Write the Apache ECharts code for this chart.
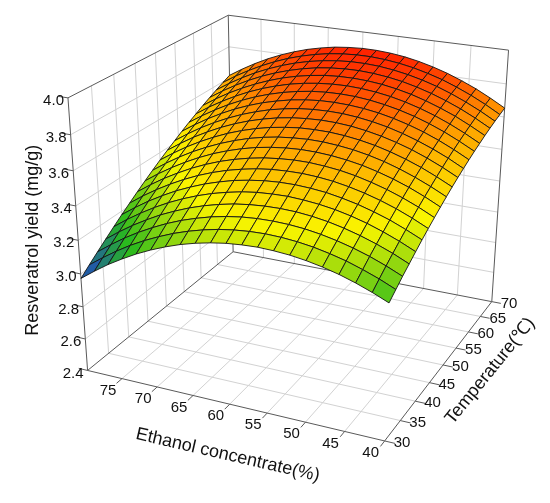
<!DOCTYPE html>
<html>
<head>
<meta charset="utf-8">
<script src="https://cdn.jsdelivr.net/npm/echarts@6.0.0/dist/echarts.min.js"></script>
<style>
html,body{margin:0;padding:0;background:#fff;}
#chart{width:550px;height:503px;}
</style>
</head>
<body>
<div id="chart"></div>
<script>
// ---------------- DATA ----------------
const ethanol = [40,42,44,46,48,50,52,54,56,58,60,62,64,66,68,70,72,74,76,78,80];
const temperature = [30,32,34,36,38,40,42,44,46,48,50,52,54,56,58,60,62,64,66,68,70];
// resveratrolYield[j][i] : temperature[j], ethanol[i]  (mg/g)
const resveratrolYield = [
 [3.195,3.234,3.268,3.297,3.320,3.338,3.351,3.358,3.361,3.357,3.349,3.335,3.316,3.292,3.262,3.227,3.187,3.141,3.091,3.034,2.973],
 [3.229,3.269,3.303,3.333,3.356,3.375,3.388,3.396,3.399,3.396,3.388,3.375,3.356,3.332,3.303,3.268,3.229,3.184,3.133,3.077,3.017],
 [3.263,3.303,3.338,3.367,3.391,3.410,3.424,3.432,3.435,3.433,3.426,3.413,3.395,3.371,3.343,3.309,3.269,3.225,3.175,3.119,3.059],
 [3.294,3.335,3.370,3.400,3.425,3.445,3.459,3.468,3.471,3.469,3.462,3.450,3.432,3.409,3.381,3.347,3.309,3.264,3.215,3.160,3.100],
 [3.325,3.366,3.402,3.433,3.458,3.478,3.492,3.501,3.506,3.504,3.498,3.486,3.468,3.446,3.418,3.385,3.347,3.303,3.254,3.200,3.140],
 [3.355,3.396,3.433,3.463,3.489,3.509,3.525,3.534,3.539,3.538,3.532,3.520,3.504,3.481,3.454,3.421,3.384,3.340,3.292,3.238,3.179],
 [3.383,3.425,3.462,3.493,3.519,3.540,3.556,3.566,3.571,3.570,3.565,3.554,3.537,3.516,3.489,3.457,3.419,3.376,3.328,3.275,3.216],
 [3.410,3.453,3.490,3.522,3.548,3.570,3.586,3.596,3.602,3.602,3.596,3.586,3.570,3.549,3.523,3.491,3.454,3.411,3.364,3.311,3.253],
 [3.436,3.479,3.517,3.549,3.576,3.598,3.614,3.625,3.631,3.632,3.627,3.617,3.602,3.581,3.555,3.524,3.487,3.445,3.398,3.346,3.288],
 [3.461,3.504,3.542,3.575,3.603,3.625,3.642,3.653,3.660,3.661,3.656,3.647,3.632,3.612,3.586,3.555,3.519,3.478,3.431,3.379,3.322],
 [3.485,3.528,3.567,3.600,3.628,3.651,3.668,3.680,3.687,3.688,3.685,3.675,3.661,3.641,3.616,3.586,3.550,3.509,3.463,3.411,3.355],
 [3.507,3.551,3.590,3.624,3.652,3.675,3.693,3.706,3.713,3.715,3.711,3.703,3.689,3.669,3.645,3.615,3.580,3.539,3.494,3.442,3.386],
 [3.528,3.573,3.612,3.646,3.675,3.699,3.717,3.730,3.738,3.740,3.737,3.729,3.715,3.697,3.672,3.643,3.608,3.568,3.523,3.472,3.416],
 [3.548,3.593,3.633,3.668,3.697,3.721,3.740,3.753,3.761,3.764,3.762,3.754,3.741,3.722,3.699,3.670,3.636,3.596,3.551,3.501,3.446],
 [3.567,3.612,3.653,3.688,3.718,3.742,3.761,3.775,3.784,3.787,3.785,3.778,3.765,3.747,3.724,3.696,3.662,3.623,3.578,3.528,3.474],
 [3.584,3.630,3.671,3.707,3.737,3.762,3.782,3.796,3.805,3.809,3.807,3.800,3.788,3.771,3.748,3.720,3.687,3.648,3.604,3.555,3.500],
 [3.601,3.647,3.689,3.724,3.755,3.781,3.801,3.816,3.825,3.829,3.828,3.822,3.810,3.793,3.771,3.743,3.710,3.672,3.629,3.580,3.526],
 [3.616,3.663,3.705,3.741,3.772,3.798,3.819,3.834,3.844,3.849,3.848,3.842,3.831,3.814,3.792,3.765,3.733,3.695,3.652,3.604,3.550],
 [3.630,3.677,3.719,3.756,3.788,3.814,3.835,3.851,3.862,3.867,3.867,3.861,3.850,3.834,3.813,3.786,3.754,3.717,3.674,3.626,3.573],
 [3.642,3.690,3.733,3.770,3.803,3.829,3.851,3.867,3.878,3.884,3.884,3.879,3.869,3.853,3.832,3.806,3.774,3.737,3.695,3.648,3.595],
 [3.654,3.702,3.746,3.783,3.816,3.843,3.865,3.882,3.893,3.899,3.900,3.895,3.886,3.870,3.850,3.824,3.793,3.757,3.715,3.668,3.616]
];
const ethanolTicks = [40,45,50,55,60,65,70,75];
const temperatureTicks = [30,35,40,45,50,55,60,65,70];
const yieldTicks = [2.4,2.6,2.8,3.0,3.2,3.4,3.6,3.8,4.0];
const ethanolRange = [40,80];
const temperatureRange = [30,70];
const yieldRange = [2.4,4.0];
const xTitle = 'Ethanol concentrate(%)';
const yTitle = 'Temperature(℃)';
const zTitle = 'Resveratrol yield (mg/g)';

// ---------------- LAYOUT (3D axis box placement in the canvas) ----------------
// [ethanol, temperature, yield] corner -> canvas pixel of that box corner
const boxAnchors = [
  [80,30,2.4, 87.5,370],
  [80,30,4.0, 67.7,98.3],
  [40,30,2.4, 385,441],
  [40,70,2.4, 491.7,301.7],
  [40,70,4.0, 508.3,50],
  [80,70,4.0, 228.7,15],
  [80,70,2.4, 233,252]
];
const FONT = '"Liberation Sans", Arial, Helvetica, sans-serif';
const colorStops = [[0,[30,60,210]],[0.22,[40,185,30]],[0.48,[250,245,0]],[0.72,[255,160,0]],[0.88,[255,82,0]],[1,[255,32,0]]];

// ---------------- PROJECTION ----------------
const nx = E => (E-ethanolRange[0])/(ethanolRange[1]-ethanolRange[0]);
const ny = T => (T-temperatureRange[0])/(temperatureRange[1]-temperatureRange[0]);
const nz = Z => (Z-yieldRange[0])/(yieldRange[1]-yieldRange[0]);

function fitCamera(anchors){
  const rows=[], rhs=[];
  anchors.forEach(([E,T,Zv,u,v])=>{
    const X=nx(E),Y=ny(T),Z=nz(Zv);
    rows.push([X,Y,Z,1,0,0,0,0,-u*X,-u*Y,-u*Z]); rhs.push(u);
    rows.push([0,0,0,0,X,Y,Z,1,-v*X,-v*Y,-v*Z]); rhs.push(v);
  });
  const n=11;
  const M=[]; for(let i=0;i<n;i++){M.push(new Array(n+1).fill(0));}
  for(let r=0;r<rows.length;r++){
    for(let i=0;i<n;i++){
      for(let j=0;j<n;j++) M[i][j]+=rows[r][i]*rows[r][j];
      M[i][n]+=rows[r][i]*rhs[r];
    }
  }
  for(let c=0;c<n;c++){
    let p=c; for(let r=c+1;r<n;r++) if(Math.abs(M[r][c])>Math.abs(M[p][c])) p=r;
    const tmp=M[c]; M[c]=M[p]; M[p]=tmp;
    for(let r=0;r<n;r++){ if(r===c) continue; const f=M[r][c]/M[c][c]; for(let k=c;k<=n;k++) M[r][k]-=f*M[c][k]; }
  }
  return M.map((row,i)=>row[n]/row[i]);
}
const P = fitCamera(boxAnchors);
function project(E,T,Zv){
  const X=nx(E),Y=ny(T),Z=nz(Zv);
  const w=P[8]*X+P[9]*Y+P[10]*Z+1;
  return [(P[0]*X+P[1]*Y+P[2]*Z+P[3])/w,(P[4]*X+P[5]*Y+P[6]*Z+P[7])/w,w];
}

// ---------------- COLOR ----------------
let zMin=Infinity,zMax=-Infinity;
resveratrolYield.forEach(r=>r.forEach(v=>{zMin=Math.min(zMin,v);zMax=Math.max(zMax,v);}));
function colorAt(z){
  const t=Math.max(0,Math.min(1,(z-zMin)/(zMax-zMin)));
  for(let k=1;k<colorStops.length;k++){
    if(t<=colorStops[k][0]){
      const a=colorStops[k-1],b=colorStops[k];
      const f=(t-a[0])/(b[0]-a[0]);
      const c=a[1].map((v,i)=>Math.round(v+(b[1][i]-v)*f));
      return 'rgb('+c.join(',')+')';
    }
  }
  return 'rgb('+colorStops[colorStops.length-1][1].join(',')+')';
}

// ---------------- BOX LINES ----------------
const [E0,E1]=ethanolRange,[T0,T1]=temperatureRange,[Z0,Z1]=yieldRange;
const lineSegs=[]; // [E1,T1,Z1,E2,T2,Z2,kind]
ethanolTicks.forEach(E=>{ if(E>E0&&E<E1){ lineSegs.push([E,T0,Z0,E,T1,Z0,0]); lineSegs.push([E,T1,Z0,E,T1,Z1,0]); }});
temperatureTicks.forEach(T=>{ if(T>T0&&T<T1){ lineSegs.push([E0,T,Z0,E1,T,Z0,0]); lineSegs.push([E1,T,Z0,E1,T,Z1,0]); }});
yieldTicks.forEach(Z=>{ if(Z>Z0+1e-9&&Z<Z1-1e-9){ lineSegs.push([E1,T0,Z,E1,T1,Z,0]); lineSegs.push([E1,T1,Z,E0,T1,Z,0]); }});
[
  [E1,T0,Z0,E0,T0,Z0],[E0,T0,Z0,E0,T1,Z0],[E1,T0,Z0,E1,T1,Z0],[E1,T1,Z0,E0,T1,Z0],
  [E1,T0,Z0,E1,T0,Z1],[E1,T1,Z0,E1,T1,Z1],[E0,T1,Z0,E0,T1,Z1],
  [E1,T0,Z1,E1,T1,Z1],[E1,T1,Z1,E0,T1,Z1]
].forEach(s=>lineSegs.push(s.concat([1])));
// ticks
const tickSegs=[];
ethanolTicks.forEach(E=>tickSegs.push([E,T0,Z0,E,T0-1.3,Z0,1]));
temperatureTicks.forEach(T=>tickSegs.push([E0,T,Z0,E0-1.3,T,Z0,1]));
yieldTicks.forEach(Z=>tickSegs.push([E1,T0,Z,E1+1.3,T0,Z,1]));

// ---------------- LABELS ----------------
const labels=[];
ethanolTicks.forEach(E=>{const p=project(E,T0,Z0);labels.push({text:String(E),x:p[0]-14,y:p[1]+12,align:'center',size:15,rot:0});});
temperatureTicks.forEach(T=>{const p=project(E0,T,Z0);labels.push({text:String(T),x:p[0]+9,y:p[1]+2,align:'left',size:15,rot:0});});
yieldTicks.forEach(Z=>{const p=project(E1,T0,Z);labels.push({text:Z.toFixed(1),x:p[0]-4,y:p[1]+3,align:'right',size:15,rot:0});});
(function(){
  const pe=project((E0+E1)/2,T0,Z0);
  labels.push({text:xTitle,x:pe[0]-2,y:pe[1]+51,align:'center',size:18,rot:-13});
  const pt=project(E0,(T0+T1)/2,Z0);
  labels.push({text:yTitle,x:pt[0]+47,y:pt[1]+6,align:'center',size:18,rot:51});
  const pz=project(E1,T0,(Z0+Z1)/2);
  labels.push({text:zTitle,x:pz[0]-45,y:pz[1],align:'center',size:18,rot:90});
})();

// ---------------- SURFACE CELLS (depth sorted) ----------------
const cells=[];
for(let j=0;j<temperature.length-1;j++){
  for(let i=0;i<ethanol.length-1;i++){
    const zc=(resveratrolYield[j][i]+resveratrolYield[j][i+1]+resveratrolYield[j+1][i]+resveratrolYield[j+1][i+1])/4;
    const d=project((ethanol[i]+ethanol[i+1])/2,(temperature[j]+temperature[j+1])/2,zc)[2];
    cells.push([i,j,d]);
  }
}
cells.sort((a,b)=>b[2]-a[2]);

function lineItem(api){
  const a=project(api.value(0),api.value(1),api.value(2));
  const b=project(api.value(3),api.value(4),api.value(5));
  const kind=api.value(6);
  return {type:'line',shape:{x1:a[0],y1:a[1],x2:b[0],y2:b[1]},
    style:{stroke:kind?'#5a5a5a':'#d2d2d2',lineWidth:1}};
}

const chart=echarts.init(document.getElementById('chart'),null,{renderer:'canvas'});
chart.setOption({
  backgroundColor:'#ffffff',
  animation:false,
  series:[
    {type:'custom',coordinateSystem:'none',silent:true,z:1,progressive:0,
     data:lineSegs,renderItem:(params,api)=>lineItem(api)},
    {type:'custom',coordinateSystem:'none',silent:true,z:2,progressive:0,
     data:cells,
     renderItem:(params,api)=>{
       const i=api.value(0),j=api.value(1);
       const pts=[[i,j],[i+1,j],[i+1,j+1],[i,j+1]].map(([a,b])=>{
         const p=project(ethanol[a],temperature[b],resveratrolYield[b][a]);return [p[0],p[1]];});
       const zc=(resveratrolYield[j][i]+resveratrolYield[j][i+1]+resveratrolYield[j+1][i]+resveratrolYield[j+1][i+1])/4;
       return {type:'polygon',shape:{points:pts},style:{fill:colorAt(zc),stroke:'#141414',lineWidth:0.9,lineJoin:'round'}};
     }},
    {type:'custom',coordinateSystem:'none',silent:true,z:3,progressive:0,
     data:tickSegs,renderItem:(params,api)=>lineItem(api)},
    {type:'custom',coordinateSystem:'none',silent:true,z:4,progressive:0,
     data:labels.map((l,k)=>[k]),
     renderItem:(params,api)=>{
       const l=labels[api.value(0)];
       return {type:'text',x:l.x,y:l.y,rotation:l.rot*Math.PI/180,
         style:{text:l.text,fill:'#111',font:l.size+'px '+FONT,align:l.align,verticalAlign:'middle'}};
     }}
  ]
});
</script>
</body>
</html>
